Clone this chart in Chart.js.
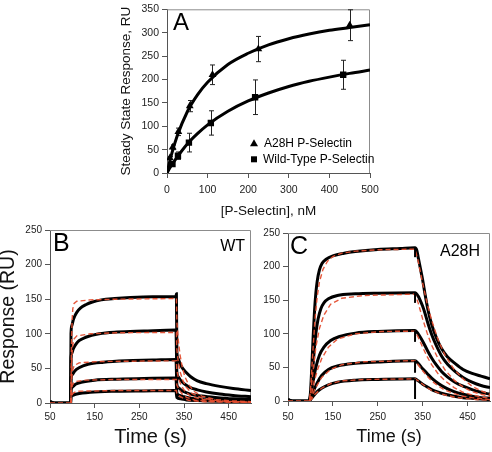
<!DOCTYPE html>
<html><head><meta charset="utf-8">
<script src="https://cdn.jsdelivr.net/npm/chart.js@4"></script>
<style>
html,body{margin:0;padding:0;background:#fff;width:492px;height:452px;overflow:hidden}
.box{position:absolute}
canvas{display:block}
</style></head><body>
<div class="box" style="left:0;top:0"><canvas id="cA" width="492" height="225"></canvas></div>
<div class="box" style="left:0;top:220px"><canvas id="cB" width="262" height="232"></canvas></div>
<div class="box" style="left:240px;top:220px"><canvas id="cC" width="252" height="232"></canvas></div>
<script>
// ---------- Panel A: steady state response ----------
const concA28H = [7, 14, 28, 56, 112, 225, 450];
const respA28H = [32, 55, 88, 143, 210, 265, 316];
const errA28H  = [3, 5, 8, 12, 21, 27, 33];
const concWT = [13.5, 27, 54, 108, 217, 434];
const respWT = [19, 37, 65, 107, 162, 210];
const errWT  = [4, 8, 20, 26, 37, 31];
const fitConc = [0, 10, 25, 50, 75, 100, 150, 200, 250, 300, 350, 400, 450, 500];
const fitA28H = [0, 36, 79, 131, 167, 194, 232, 256, 274, 287, 297, 305, 311, 317];
const fitWT   = [0, 15, 34, 62, 84, 103, 132, 154, 171, 185, 196, 205, 213, 220];
const ticksConc = [0, 100, 200, 300, 400, 500];
const ticksSS = [0, 50, 100, 150, 200, 250, 300, 350];

// ---------- Panels B & C: sensorgrams (time s, RU) ----------
const ticksTime = [50, 150, 250, 350, 450];
const ticksResp = [0, 50, 100, 150, 200, 250];

const wtObs1 = [[50,3],[53,1],[60,0],[96,0],[97,100],[99,112],[102,120],[105,125],[110,131],[118,137],[130,142],[145,146],[165,149],[195,151],[230,152.5],[280,153.5],[332,154],[333,158],[334,75],[337,64],[341,57],[347,50],[355,44],[365,38],[380,32],[400,28],[430,24],[460,21],[500,18]];
const wtObs2 = [[50,2],[60,0],[96,0],[97,65],[99,72],[102,78],[107,84],[115,90],[130,95],[160,100],[200,102.5],[260,104],[332,105.5],[334,45],[337,38],[342,33],[350,28],[362,23],[380,19],[400,16],[430,13],[460,11],[500,9]];
const wtObs3 = [[96,0],[97,35],[100,41],[105,46],[115,51],[135,56],[170,59],[220,61],[280,62],[332,63],[334,27],[338,22],[345,18],[355,15],[370,12],[390,10],[420,8],[460,6],[500,5]];
const wtObs4 = [[96,0],[97,19],[100,23],[107,27],[120,30],[150,33],[200,34.5],[260,35.5],[332,36],[334,15],[340,11],[350,9],[365,7],[390,5],[430,4],[500,3]];
const wtObs5 = [[96,0],[97,9],[100,11],[110,13],[140,15.5],[200,17],[260,17.5],[332,18],[334,8],[342,6],[355,4.5],[380,3.5],[430,2.5],[500,2]];

const wtFit1 = [[50,0],[97,0],[98,80],[99.5,120],[101,136],[104,144],[110,147],[140,149],[200,150],[333,151],[334,118],[337,92],[341,70],[346,52],[352,38],[360,27],[372,17],[390,10],[420,5],[460,3],[500,2]];
const wtFit2 = [[97,0],[98,50],[100,80],[103,92],[110,97],[140,100],[200,101.5],[333,102],[334,78],[337,60],[341,46],[347,33],[355,23],[368,14],[390,7],[430,3],[500,1]];
const wtFit3 = [[97,0],[98,30],[100,46],[104,54],[115,58],[160,60],[333,61],[334,47],[338,35],[344,25],[352,17],[365,10],[390,5],[440,2],[500,1]];
const wtFit4 = [[97,0],[98,17],[100,26],[105,31],[130,33],[200,34],[333,34],[334,26],[339,19],[346,13],[356,8],[375,4],[420,2],[500,1]];
const wtFit5 = [[97,0],[98,9],[101,14],[110,17],[200,18],[333,18],[334,14],[340,10],[348,7],[360,4],[390,2],[500,1]];

const mutObs1 = [[50,3],[53,1],[60,0],[97,0],[100,12],[103,50],[106,95],[109,133],[112,160],[115,178],[120,195],[126,205],[135,211],[150,216],[175,220],[200,222.5],[250,225.5],[300,227],[333,228],[337,224],[340,214],[345,197],[350,180],[355,160],[362,135],[370,114],[380,95],[392,78],[405,66],[422,56],[440,47],[460,41],[480,37],[500,33]];
const mutObs2 = [[50,2],[60,0],[97,0],[100,8],[102,20],[105,45],[108,72],[112,100],[117,122],[123,137],[130,146],[140,152],[160,157],[200,159.5],[250,160.5],[333,161],[340,156],[345,149],[350,141],[355,131],[362,115],[370,99],[380,83],[392,67],[405,55],[422,44],[440,35],[460,28],[480,23],[500,20]];
const mutObs3 = [[97,0],[100,5],[105,25],[112,50],[120,68],[130,80],[145,90],[165,96],[200,101],[250,103.5],[333,105],[340,100],[350,89],[360,76],[370,64],[380,54],[392,44],[405,36],[422,28],[440,22],[460,17],[480,13],[500,10]];
const mutObs4 = [[97,0],[100,3],[105,12],[115,27],[125,38],[140,47],[160,52],[200,56],[250,58],[333,60],[340,56],[350,48],[360,41],[370,34],[385,26],[400,20],[420,14],[440,10],[460,7],[480,5],[500,4]];
const mutObs5 = [[97,0],[100,2],[105,6],[115,14],[125,19],[140,24],[160,28],[200,31],[250,32],[333,33],[340,30],[350,25],[360,21],[370,17],[385,13],[400,10],[420,7],[440,5],[460,4],[480,3],[500,2]];

const mutFit1 = [[50,0],[98,0],[101,25],[105,70],[110,120],[115,155],[120,177],[128,196],[138,208],[150,215],[170,220],[200,223],[250,225],[333,226],[340,208],[350,175],[360,145],[370,120],[385,90],[400,68],[420,47],[440,33],[460,22],[480,15],[500,10]];
const mutFit2 = [[98,0],[101,15],[105,40],[112,80],[120,108],[130,128],[145,144],[170,153],[220,157],[333,159],[340,146],[350,122],[360,101],[370,83],[385,62],[400,46],[420,31],[440,21],[460,14],[480,10],[500,7]];
const mutFit3 = [[98,0],[102,8],[108,28],[115,45],[125,63],[140,80],[160,92],[200,100],[260,103.5],[333,104],[340,95],[350,80],[360,66],[370,54],[385,40],[400,30],[420,20],[440,13],[460,9],[480,6],[500,4]];
const mutFit4 = [[98,0],[103,6],[110,18],[125,35],[145,47],[170,54],[220,58.5],[333,60],[340,54],[350,45],[360,37],[370,30],[385,22],[400,16],[420,11],[440,7],[460,5],[500,2]];
const mutFit5 = [[98,0],[103,3],[110,10],[125,19],[145,26],[170,30],[220,32],[333,33],[340,30],[350,25],[360,20],[370,16],[385,12],[400,9],[420,6],[440,4],[470,2],[500,1]];
// short vertical injection-switch artefacts at t = 333 s in panel C (top, bottom RU)
const mutSpikes = [[228, 214], [161, 146], [105, 88], [60, 42], [33, 3]];

// ---------- styling / helpers ----------
const FONT = "'Liberation Sans', Arial, sans-serif";
const AXIS = '#555';
const RED = 'rgba(228,78,48,0.95)';
const toXY = pts => pts.map(([x, y]) => ({x, y}));
const setTicks = arr => function (s) { s.ticks = arr.map(v => ({value: v})); };

const framePlugin = {
  id: 'frame',
  beforeDatasetsDraw(chart) {
    const {ctx, chartArea: a} = chart;
    ctx.save();
    ctx.strokeStyle = '#8c8c8c'; ctx.lineWidth = 1;
    ctx.beginPath();
    ctx.moveTo(a.left, a.top + 0.5); ctx.lineTo(a.right - 0.5, a.top + 0.5); ctx.lineTo(a.right - 0.5, a.bottom);
    ctx.stroke(); ctx.restore();
  }
};
function labelsPlugin(items) {
  return {
    id: 'lbl',
    afterDraw(chart) {
      const {ctx, chartArea: a} = chart;
      ctx.save(); ctx.fillStyle = '#000'; ctx.textBaseline = 'middle';
      items.forEach(it => {
        ctx.font = it.size + 'px ' + FONT;
        ctx.textAlign = it.align;
        const x = it.align === 'right' ? a.right - it.dx : a.left + it.dx;
        ctx.fillText(it.text, x, a.top + it.dy);
      });
      ctx.restore();
    }
  };
}
function spikePlugin(t, spikes) {
  return {
    id: 'spk',
    afterDatasetsDraw(chart) {
      const {ctx, scales: {x, y}} = chart;
      ctx.save(); ctx.strokeStyle = '#000'; ctx.lineWidth = 2;
      const px = x.getPixelForValue(t);
      spikes.forEach(([a, b]) => { ctx.beginPath(); ctx.moveTo(px, y.getPixelForValue(a)); ctx.lineTo(px, y.getPixelForValue(b)); ctx.stroke(); });
      ctx.restore();
    }
  };
}
const errPlugin = {
  id: 'err',
  beforeDatasetsDraw(chart) {
    const {ctx, scales: {x, y}} = chart;
    ctx.save(); ctx.strokeStyle = '#222'; ctx.lineWidth = 1;
    const draw = (cs, rs, es) => cs.forEach((c, i) => {
      const px = Math.round(x.getPixelForValue(c)) + 0.5;
      const t = y.getPixelForValue(rs[i] + es[i]);
      const b = y.getPixelForValue(rs[i] - es[i]);
      ctx.beginPath();
      ctx.moveTo(px, t); ctx.lineTo(px, b);
      ctx.moveTo(px - 2.5, t); ctx.lineTo(px + 2.5, t);
      ctx.moveTo(px - 2.5, b); ctx.lineTo(px + 2.5, b);
      ctx.stroke();
    });
    draw(concA28H, respA28H, errA28H);
    draw(concWT, respWT, errWT);
    ctx.restore();
  }
};
const legendPlugin = {
  id: 'legA',
  afterDraw(chart) {
    const {ctx, chartArea: a} = chart;
    const ds = chart.data.datasets;
    ctx.save(); ctx.fillStyle = '#000';
    ctx.font = '12px ' + FONT; ctx.textBaseline = 'middle'; ctx.textAlign = 'left';
    const x0 = a.left + 87, y1 = a.top + 134, y2 = a.top + 150;
    ctx.beginPath(); ctx.moveTo(x0, y1 - 4); ctx.lineTo(x0 + 4, y1 + 3); ctx.lineTo(x0 - 4, y1 + 3); ctx.closePath(); ctx.fill();
    ctx.fillRect(x0 - 3, y2 - 3, 6, 6);
    ctx.fillText(ds[0].label, x0 + 10, y1);
    ctx.fillText(ds[1].label, x0 + 9, y2);
    ctx.restore();
  }
};

function axis(opts) {
  return {
    type: 'linear', min: opts.min, max: opts.max,
    afterBuildTicks: setTicks(opts.ticks),
    afterFit: opts.fit,
    ticks: {font: {family: FONT, size: opts.tickSize}, color: '#222', padding: opts.pad, maxRotation: 0, autoSkip: false},
    grid: {drawOnChartArea: false, drawTicks: true, tickLength: 5, color: AXIS},
    border: {color: AXIS, width: 1},
    title: opts.title ? {display: true, text: opts.title, color: '#111',
      font: {family: FONT, size: opts.titleSize, lineHeight: opts.lh || 1.2}, padding: opts.tpad} : {display: false}
  };
}
const common = {responsive: false, animation: false, devicePixelRatio: 1,
  plugins: {legend: {display: false}, tooltip: {enabled: false}}};

// ---------- Chart A ----------
new Chart(document.getElementById('cA'), {
  type: 'scatter',
  data: {datasets: [
    {label: 'A28H P-Selectin', data: concA28H.map((c, i) => ({x: c, y: respA28H[i]})), pointStyle: 'triangle', pointRadius: 4.5, backgroundColor: '#000', borderColor: '#000', borderWidth: 0, order: 0},
    {label: 'Wild-Type P-Selectin', data: concWT.map((c, i) => ({x: c, y: respWT[i]})), pointStyle: 'rect', pointRadius: 4.5, backgroundColor: '#000', borderColor: '#000', borderWidth: 0, order: 0},
    {label: 'fitA', data: fitConc.map((c, i) => ({x: c, y: fitA28H[i]})), showLine: true, pointRadius: 0, borderColor: '#000', borderWidth: 3, cubicInterpolationMode: 'monotone', order: 2},
    {label: 'fitWT', data: fitConc.map((c, i) => ({x: c, y: fitWT[i]})), showLine: true, pointRadius: 0, borderColor: '#000', borderWidth: 3, cubicInterpolationMode: 'monotone', order: 2}
  ]},
  options: Object.assign({}, common, {
    layout: {padding: {left: 0, top: 3, right: 122, bottom: 0}},
    scales: {
      x: axis({min: 0, max: 500, ticks: ticksConc, tickSize: 10.5, pad: 6, fit: s => { s.height = 52; },
        title: '[P-Selectin], nM', titleSize: 13.5, tpad: {top: 0, bottom: 6}}),
      y: axis({min: 0, max: 350, ticks: ticksSS, tickSize: 10.5, pad: 3, fit: s => { s.width = 167; },
        title: 'Steady State Response, RU', titleSize: 13.5, tpad: {top: 118, bottom: 0}})
    }
  }),
  plugins: [framePlugin, errPlugin, legendPlugin, labelsPlugin([{text: 'A', size: 24, align: 'left', dx: 6, dy: 14}])]
});

// ---------- Sensorgram charts ----------
function sensor(id, obs, fits, cfg, extra) {
  const ds = [];
  fits.forEach(f => ds.push({data: toXY(f), showLine: true, pointRadius: 0, borderColor: RED, borderWidth: 1.4, borderDash: [5, 3], tension: 0, order: 0}));
  obs.forEach(o => ds.push({data: toXY(o), showLine: true, pointRadius: 0, borderColor: '#000', borderWidth: 3, cubicInterpolationMode: 'monotone', order: 1}));
  new Chart(document.getElementById(id), {
    type: 'scatter',
    data: {datasets: ds},
    options: Object.assign({}, common, {
      layout: {padding: cfg.padding},
      scales: {
        x: axis({min: 50, max: 500, ticks: ticksTime, tickSize: 10, pad: cfg.xpad, fit: s => { s.height = cfg.xh; },
          title: 'Time (s)', titleSize: cfg.xtSize, tpad: {top: 0, bottom: cfg.xtPad}}),
        y: axis({min: 0, max: 250, ticks: ticksResp, tickSize: 10, pad: 3, fit: s => { s.width = cfg.yw; },
          title: cfg.ytitle, titleSize: 19.5, lh: 0.9, tpad: {top: 0, bottom: 0}})
      }
    }),
    plugins: [framePlugin, labelsPlugin(cfg.labels)].concat(extra || [])
  });
}
sensor('cB', [wtObs1, wtObs2, wtObs3, wtObs4, wtObs5], [wtFit1, wtFit2, wtFit3, wtFit4, wtFit5], {
  padding: {left: 0, top: 10, right: 11, bottom: 0}, xh: 49, yw: 50, xpad: 3, xtSize: 20, xtPad: 3,
  ytitle: 'Response (RU)',
  labels: [{text: 'B', size: 25, align: 'left', dx: 3, dy: 14}, {text: 'WT', size: 16, align: 'right', dx: 6, dy: 17}]
});
sensor('cC', [mutObs1, mutObs2, mutObs3, mutObs4, mutObs5], [mutFit1, mutFit2, mutFit3, mutFit4, mutFit5], {
  padding: {left: 0, top: 13, right: 2, bottom: 0}, xh: 51, yw: 48, xpad: 5, xtSize: 18, xtPad: 4,
  ytitle: null,
  labels: [{text: 'C', size: 25, align: 'left', dx: 2, dy: 14}, {text: 'A28H', size: 16, align: 'right', dx: 10, dy: 19}]
}, [spikePlugin(333, mutSpikes)]);
</script>
</body></html>
